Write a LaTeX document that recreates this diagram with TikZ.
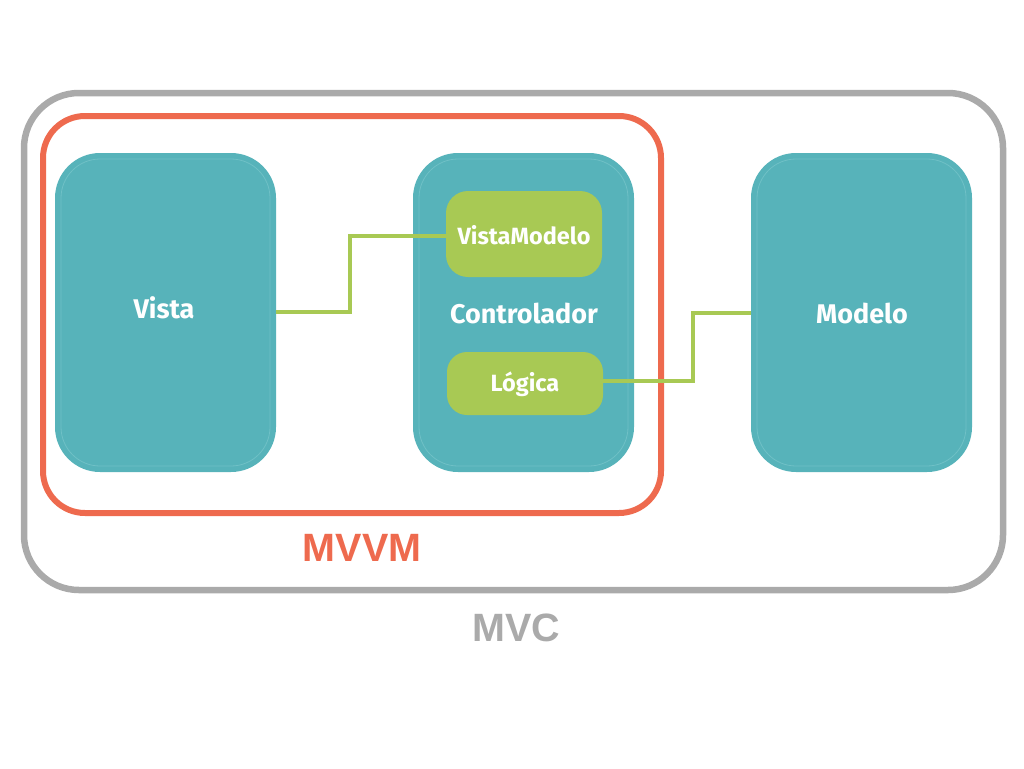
\documentclass[tikz,border=0pt]{standalone}
\usepackage{fontspec}
\setmainfont{Fira Sans}
\newfontfamily\labfont{Liberation Sans}
\definecolor{teal}{HTML}{57B3BA}
\definecolor{tealline}{HTML}{6FC0C6}
\definecolor{leaf}{HTML}{A8C954}
\definecolor{coral}{HTML}{EE6A4E}
\definecolor{mgray}{HTML}{AAAAAA}
\begin{document}
\begin{tikzpicture}[x=1pt,y=-1pt,
  inner/.style={draw=tealline,line width=0.8pt,rounded corners=39pt},
  txt/.style={text=white,font=\fontsize{27}{30}\selectfont\bfseries},
  subtxt/.style={text=white,font=\fontsize{23.5}{26}\selectfont\bfseries},
  link/.style={draw=leaf,line width=3.5pt},
  lab/.style={font=\labfont\fontsize{39.5}{42}\selectfont\bfseries}]
\useasboundingbox (0,0) rectangle (1024,768);
% MVC frame
\draw[mgray,line width=6.5pt,rounded corners=55pt] (24,93) rectangle (1003,590);
% MVVM frame
\draw[coral,line width=6pt,rounded corners=42pt] (43,116) rectangle (661,513);
% teal blocks
\foreach \x in {55,413,751}{
  \fill[teal,rounded corners=45pt] (\x,153) rectangle ++(221,319);
  \draw[inner] (\x+6,159) rectangle ++(209,307);
}
\node[txt] (vista) at (164,308) {Vista};
\node[txt] (ctrl) at (524,313) {Controlador};
\node[txt] (modelo) at (862,313) {Modelo};
\coordinate (vistaE) at (276,312);
\coordinate (modeloW) at (751,313);
% green sub-blocks
\fill[leaf,rounded corners=22pt] (446,191) rectangle (602,277);
\fill[leaf,rounded corners=20pt] (447,352) rectangle (603,415);
\node[subtxt] (vm) at (524,235) {VistaModelo};
\node[subtxt] (log) at (525,384) {Lógica};
\coordinate (vmW) at (446,236);
\coordinate (logE) at (603,381);
% connectors
\draw[link] (vistaE) -- (350,312) |- (vmW);
\draw[link] (logE) -- (693,381) |- (modeloW);
% labels
\node[lab,text=coral] (mvvm) at (362,548) {MVVM};
\node[lab,text=mgray] (mvc) at (516,628) {MVC};
\end{tikzpicture}
\end{document}
